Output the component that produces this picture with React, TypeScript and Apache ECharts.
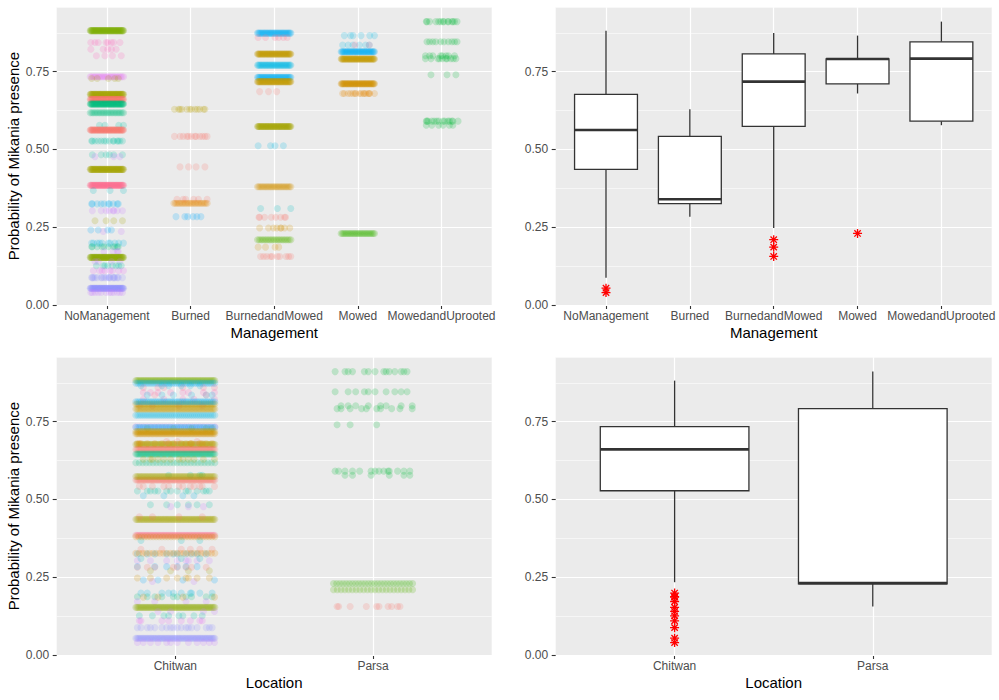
import React, { useEffect, useRef } from 'react';
import * as echarts from 'echarts';

// ---------- data ----------
const managementLevels = ['NoManagement', 'Burned', 'BurnedandMowed', 'Mowed', 'MowedandUprooted'];
const locationLevels = ['Chitwan', 'Parsa'];
const yTicks = [0, 0.25, 0.5, 0.75];

// rows: [probability, group, number of points, location index]
const noManagementRows: number[][] = [
  [0.882, 4, 70, 0], [0.844, 15, 8, 0], [0.822, 15, 5, 0], [0.801, 15, 4, 0],
  [0.734, 14, 22, 0], [0.728, 3, 5, 0], [0.677, 3, 70, 0], [0.661, 0, 70, 0],
  [0.646, 7, 70, 0], [0.618, 7, 24, 0], [0.578, 8, 4, 0], [0.5625, 0, 70, 0],
  [0.527, 8, 14, 0], [0.483, 8, 6, 0], [0.477, 13, 3, 0], [0.436, 3, 70, 0],
  [0.385, 16, 70, 0], [0.368, 9, 3, 0], [0.325, 21, 10, 0], [0.303, 13, 8, 0],
  [0.271, 3, 4, 0], [0.241, 11, 4, 0], [0.236, 13, 2, 0], [0.199, 10, 10, 0],
  [0.1875, 7, 10, 0], [0.172, 13, 4, 0], [0.153, 19, 70, 0], [0.140, 13, 4, 0],
  [0.126, 8, 8, 0], [0.110, 14, 8, 0], [0.088, 12, 18, 0], [0.054, 12, 70, 0],
  [0.040, 13, 12, 0],
];
const burnedRows: number[][] = [
  [0.629, 18, 12, 0], [0.542, 0, 12, 0], [0.444, 0, 4, 0], [0.340, 0, 6, 0],
  [0.327, 1, 24, 0], [0.284, 11, 6, 0],
];
const burnedMowedRows: number[][] = [
  [0.874, 21, 40, 0], [0.860, 16, 6, 0], [0.807, 2, 60, 0], [0.771, 10, 40, 0],
  [0.732, 21, 40, 0], [0.718, 2, 60, 0], [0.686, 0, 3, 0], [0.574, 3, 60, 0],
  [0.512, 10, 4, 0], [0.380, 17, 28, 0], [0.310, 9, 3, 0], [0.282, 0, 8, 0],
  [0.2475, 17, 8, 0], [0.210, 20, 22, 1], [0.186, 17, 4, 0], [0.156, 0, 10, 1],
];
const mowedRows: number[][] = [
  [0.866, 10, 6, 0], [0.836, 10, 6, 0], [0.836, 16, 2, 0], [0.814, 21, 45, 0],
  [0.791, 2, 60, 0], [0.711, 17, 60, 0], [0.680, 1, 16, 0], [0.230, 5, 26, 1],
];
const mowedUprootedRows: number[][] = [
  [0.911, 6, 14, 1], [0.846, 6, 10, 1], [0.801, 6, 8, 1], [0.792, 6, 10, 1],
  [0.740, 6, 3, 1], [0.591, 6, 14, 1], [0.578, 6, 6, 1],
];
const rowsByManagement = [noManagementRows, burnedRows, burnedMowedRows, mowedRows, mowedUprootedRows];

// box statistics: [lower whisker, Q1, median, Q3, upper whisker]
const managementBoxStats = [
  [0.088, 0.436, 0.5625, 0.677, 0.882],
  [0.284, 0.326, 0.340, 0.542, 0.629],
  [0.2475, 0.574, 0.718, 0.807, 0.874],
  [0.680, 0.711, 0.791, 0.791, 0.866],
  [0.578, 0.591, 0.792, 0.846, 0.911],
];
const managementOutliers = [[0.054, 0.040], [], [0.210, 0.186, 0.156], [0.230], []];
const locationBoxStats = [
  [0.234, 0.528, 0.661, 0.734, 0.882],
  [0.156, 0.229, 0.231, 0.792, 0.911],
];
const locationOutliers = [
  [0.199, 0.1875, 0.186, 0.172, 0.153, 0.140, 0.126, 0.110, 0.088, 0.054, 0.040],
  [],
];

// fixed jitter pattern (fractions of the jitter half-width) for the sparse rows
const jitterPattern = [
  0.62, -0.87, 0.15, -0.34, 0.93, -0.05, 0.41, -0.71, 0.78, -0.52, 0.27, -0.96, 0.05, 0.55, -0.22, 0.86,
  -0.63, 0.33, -0.12, 0.71, -0.44, 0.99, -0.81, 0.19, -0.29, 0.47, -0.58, 0.09, -0.91, 0.68, -0.17, 0.38,
];

// ---------- styles ----------
const groupColors = [
  '#F8766D', '#E58700', '#C49A00', '#A3A500', '#7CAE00', '#39B600', '#00BA38', '#00BF7D',
  '#00C1A3', '#00BFC4', '#00B8E7', '#00A9FF', '#8F91FF', '#C77CFF', '#E76BF3', '#FF62BC',
  '#FF6C91', '#D39200', '#B79F00', '#8AAB00', '#53B400', '#00B0F6',
];
const FONT = '"Liberation Sans", Arial, Helvetica, sans-serif';
const JITTER = 0.2;
const BOX_HALF = 0.375;

function jitterPoints(byLocation: boolean) {
  const pts: any[] = [];
  let r = 0;
  rowsByManagement.forEach((rows, m) => {
    rows.forEach(([p, g, n, loc]) => {
      const cx = byLocation ? loc : m;
      const start = (r * 5 + (byLocation ? 11 : 0)) % jitterPattern.length;
      for (let k = 0; k < n; k++) {
        let off: number;
        if (n >= 20) off = -JITTER + (2 * JITTER * k) / (n - 1);
        else off = JITTER * jitterPattern[(start + k) % jitterPattern.length];
        pts.push({ value: [cx + off, p], itemStyle: { color: groupColors[g] } });
      }
      r++;
    });
  });
  return pts;
}

function boxRender(params: any, api: any) {
  const x = api.value(0);
  const mn = api.value(1), q1 = api.value(2), md = api.value(3), q3 = api.value(4), mx = api.value(5);
  const tl = api.coord([x - BOX_HALF, q3]);
  const br = api.coord([x + BOX_HALF, q1]);
  const ml = api.coord([x - BOX_HALF, md]);
  const mr = api.coord([x + BOX_HALF, md]);
  const top = api.coord([x, mx]);
  const bot = api.coord([x, mn]);
  const stroke = '#333333';
  return {
    type: 'group',
    children: [
      { type: 'line', shape: { x1: top[0], y1: top[1], x2: top[0], y2: tl[1] }, style: { stroke, lineWidth: 1.3 } },
      { type: 'line', shape: { x1: bot[0], y1: br[1], x2: bot[0], y2: bot[1] }, style: { stroke, lineWidth: 1.3 } },
      { type: 'rect', shape: { x: tl[0], y: tl[1], width: br[0] - tl[0], height: br[1] - tl[1] }, style: { fill: '#ffffff', stroke, lineWidth: 1.3 } },
      { type: 'line', shape: { x1: ml[0], y1: ml[1], x2: mr[0], y2: mr[1] }, style: { stroke, lineWidth: 2.6 } },
    ],
  };
}

const ASTERISK = 'path://M0 -10 L0 10 M-10 0 L10 0 M-7.07 -7.07 L7.07 7.07 M-7.07 7.07 L7.07 -7.07';

function buildOption() {
  const grids = [
    { left: 56.7, top: 7.3, width: 435, height: 297.7 },
    { left: 555.7, top: 7.3, width: 436, height: 297.7 },
    { left: 56.7, top: 357.3, width: 435, height: 297.7 },
    { left: 555.7, top: 357.3, width: 436, height: 297.7 },
  ].map((g) => ({ ...g, show: true, backgroundColor: '#EBEBEB', borderWidth: 0, containLabel: false }));

  const xAxis = [0, 1, 2, 3].map((g) => {
    const cats = g < 2 ? managementLevels : locationLevels;
    const idx = cats.map((_, i) => i);
    return {
      type: 'value', gridIndex: g, min: -0.6, max: cats.length - 0.4, position: 'bottom',
      name: g < 2 ? 'Management' : 'Location', nameLocation: 'middle', nameGap: 20,
      nameTextStyle: { color: '#000000', fontSize: 15, fontFamily: FONT },
      axisLine: { show: false, onZero: false },
      axisTick: { show: true, length: 4, lineStyle: { color: '#333333', width: 1.1 }, customValues: idx },
      axisLabel: {
        customValues: idx, color: '#4D4D4D', fontSize: 12, margin: 5, fontFamily: FONT,
        formatter: (v: number) => cats[Math.round(v)] ?? '',
      },
      splitLine: { show: true, lineStyle: { color: '#FFFFFF', width: 1.2 } },
    };
  });

  const yAxis: any[] = [];
  [0, 1, 2, 3].forEach((g) => {
    yAxis.push({
      type: 'value', gridIndex: g, min: 0, max: 0.957, interval: 0.25, position: 'left',
      name: g % 2 === 0 ? 'Probability of Mikania presence' : '',
      nameLocation: 'middle', nameGap: 36,
      nameTextStyle: { color: '#000000', fontSize: 15, fontFamily: FONT },
      axisLine: { show: false, onZero: false },
      axisTick: { show: true, length: 4, lineStyle: { color: '#333333', width: 1.1 }, customValues: yTicks },
      axisLabel: {
        customValues: yTicks, color: '#4D4D4D', fontSize: 12, margin: 7.5, fontFamily: FONT,
        formatter: (v: number) => v.toFixed(2),
      },
      splitLine: { show: true, lineStyle: { color: '#FFFFFF', width: 1.2 } },
      z: 3,
    });
    yAxis.push({
      type: 'value', gridIndex: g, min: 0, max: 0.957, interval: 0.125, position: 'left',
      axisLine: { show: false, onZero: false }, axisTick: { show: false }, axisLabel: { show: false },
      splitLine: { show: true, lineStyle: { color: '#FFFFFF', width: 0.55 } },
      z: 2,
    });
  });

  const scatterBase = {
    type: 'scatter', symbol: 'circle', symbolSize: 7, silent: true,
    large: false, progressive: 0, itemStyle: { opacity: 0.2 }, z: 5,
  };
  const outlierBase = {
    type: 'scatter', symbol: ASTERISK, symbolSize: 9, silent: true, z: 10,
    itemStyle: { color: 'rgba(0,0,0,0)', borderColor: '#FF0000', borderWidth: 1.3, opacity: 1 },
  };

  const series: any[] = [
    { ...scatterBase, xAxisIndex: 0, yAxisIndex: 0, data: jitterPoints(false) },
    {
      type: 'custom', xAxisIndex: 1, yAxisIndex: 2, renderItem: boxRender, silent: true, z: 5,
      encode: { x: 0, y: [1, 2, 3, 4, 5] },
      data: managementBoxStats.map((s, i) => [i, ...s]),
    },
    {
      ...outlierBase, xAxisIndex: 1, yAxisIndex: 2,
      data: managementOutliers.flatMap((vals, i) => vals.map((v) => [i, v])),
    },
    { ...scatterBase, xAxisIndex: 2, yAxisIndex: 4, data: jitterPoints(true) },
    {
      type: 'custom', xAxisIndex: 3, yAxisIndex: 6, renderItem: boxRender, silent: true, z: 5,
      encode: { x: 0, y: [1, 2, 3, 4, 5] },
      data: locationBoxStats.map((s, i) => [i, ...s]),
    },
    {
      ...outlierBase, xAxisIndex: 3, yAxisIndex: 6,
      data: locationOutliers.flatMap((vals, i) => vals.map((v) => [i, v])),
    },
  ];

  return {
    animation: false,
    backgroundColor: '#FFFFFF',
    textStyle: { fontFamily: FONT },
    grid: grids,
    xAxis,
    yAxis,
    series,
  };
}

export default function App() {
  const ref = useRef<HTMLDivElement>(null);
  useEffect(() => {
    if (!ref.current) return;
    const chart = echarts.init(ref.current, null, { renderer: 'svg' });
    chart.setOption(buildOption() as any);
    return () => chart.dispose();
  }, []);
  return <div ref={ref} style={{ position: 'absolute', left: 0, top: 0, width: 999, height: 700 }} />;
}
